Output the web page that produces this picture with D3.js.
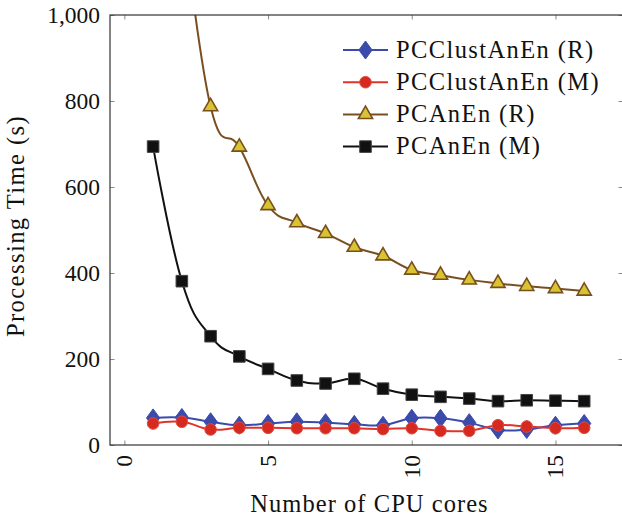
<!DOCTYPE html>
<html>
<head>
<meta charset="utf-8">
<script src="https://cdn.jsdelivr.net/npm/d3@7/dist/d3.min.js"></script>
<style>
  body { margin: 0; background: #fff; }
  svg { display: block; }
</style>
</head>
<body>
<svg id="chart"></svg>
<script>
// data (processing time in seconds per core count)
const cores = [1, 2, 3, 4, 5, 6, 7, 8, 9, 10, 11, 12, 13, 14, 15, 16];
const clustR = [63, 64, 54, 46, 50, 54, 52, 48, 46, 62, 62, 52, 35, 36, 46, 50];
const clustM = [50, 54, 36, 40, 40, 39, 39, 39, 37, 39, 33, 33, 46, 43, 39, 40];
const anenR = [null, 1250, 787, 693, 557, 517, 492, 460, 440, 407, 395, 384, 376, 369, 364, 358];
const anenM = [694, 381, 253, 206, 177, 150, 143, 154, 131, 117, 112, 108, 102, 104, 103, 102];
const seriesNames = ['PCClustAnEn (R)', 'PCClustAnEn (M)', 'PCAnEn (R)', 'PCAnEn (M)'];
const xTicks = [0, 5, 10, 15];
const yTicks = [0, 200, 400, 600, 800, 1000];

const width = 622, height = 518;
const margin = {top: 15, right: 622 - 623, bottom: 518 - 445, left: 110};
const serif = '"Liberation Serif"';

const svg = d3.select('#chart')
  .attr('width', width)
  .attr('height', height);

const x = d3.scaleLinear()
  .domain([-0.5, 17.35])
  .range([margin.left, width - margin.right]);
const y = d3.scaleLinear()
  .domain([0, 1000])
  .range([height - margin.bottom, margin.top]);

const styles = [
  {data: clustR, color: '#3b4bac', mark: 'diamond', fill: '#3b4bac', stroke: '#3b4bac'},
  {data: clustM, color: '#e0342b', mark: 'circle', fill: '#d62a20', stroke: '#e24a3f'},
  {data: anenR, color: '#7a4f1f', mark: 'triangle', fill: '#d8c433', stroke: '#7a4f1f'},
  {data: anenM, color: '#111111', mark: 'square', fill: '#111111', stroke: '#444444'}
];

// marker shapes, centred on 0,0
function markPath(type) {
  if (type === 'diamond') return 'M0,-9L6.6,0L0,9L-6.6,0Z';
  if (type === 'square') return 'M-5.8,-5.8H5.8V5.8H-5.8Z';
  if (type === 'triangle') {
    const r = 8.2;
    return `M0,${-r}L${r * 0.866},${r / 2}L${-r * 0.866},${r / 2}Z`;
  }
  return d3.symbol(d3.symbolCircle, Math.PI * 5.8 * 5.8)();
}

// clip region = plot box
svg.append('clipPath').attr('id', 'plotClip')
  .append('rect')
  .attr('x', x.range()[0]).attr('y', y.range()[1])
  .attr('width', x.range()[1] - x.range()[0])
  .attr('height', y.range()[0] - y.range()[1]);

// axes: ticks point inward, on all four sides
const tickLen = 4.5;
const axisG = svg.append('g');

const xAxisB = d3.axisBottom(x).tickValues(xTicks).tickSizeInner(-tickLen).tickSizeOuter(0).tickFormat('');
const xAxisT = d3.axisTop(x).tickValues(xTicks).tickSizeInner(-tickLen).tickSizeOuter(0).tickFormat('');
const yAxisL = d3.axisLeft(y).tickValues(yTicks).tickSizeInner(-tickLen).tickSizeOuter(0).tickFormat('');
const yAxisR = d3.axisRight(y).tickValues(yTicks).tickSizeInner(-tickLen).tickSizeOuter(0).tickFormat('');

axisG.append('g').attr('transform', `translate(0,${y.range()[0]})`).call(xAxisB);
axisG.append('g').attr('transform', `translate(0,${y.range()[1]})`).call(xAxisT);
axisG.append('g').attr('transform', `translate(${x.range()[0]},0)`).call(yAxisL);
axisG.append('g').attr('transform', `translate(${x.range()[1]},0)`).call(yAxisR);
axisG.selectAll('.domain').remove();
axisG.selectAll('.tick line').attr('stroke', '#8a8a8a').attr('stroke-width', 1);

// tick labels
const fmt = d3.format(',');
svg.append('g').selectAll('text')
  .data(yTicks)
  .enter().append('text')
  .attr('x', x.range()[0] - 10)
  .attr('y', d => y(d) + 8)
  .attr('text-anchor', 'end')
  .style('font-family', serif)
  .style('font-size', '23.5px')
  .style('fill', '#111')
  .text(d => fmt(d));

svg.append('g').selectAll('text')
  .data(xTicks)
  .enter().append('text')
  .attr('transform', d => `translate(${x(d) + 8},${y.range()[0] + 10}) rotate(-90)`)
  .attr('text-anchor', 'end')
  .style('font-family', serif)
  .style('font-size', '23.5px')
  .style('fill', '#111')
  .text(d => d);

// axis labels
svg.append('text')
  .attr('x', 369.5)
  .attr('y', 512)
  .attr('text-anchor', 'middle')
  .style('font-family', serif)
  .style('font-size', '24.5px')
  .style('letter-spacing', '1.05px')
  .style('fill', '#111')
  .text('Number of CPU cores');

svg.append('text')
  .attr('transform', 'translate(23.5,226) rotate(-90)')
  .attr('text-anchor', 'middle')
  .style('font-family', serif)
  .style('font-size', '24.5px')
  .style('letter-spacing', '1.45px')
  .style('fill', '#111')
  .text('Processing Time (s)');

// series
const plotG = svg.append('g').attr('clip-path', 'url(#plotClip)');
const line = d3.line()
  .x(d => x(d.c))
  .y(d => y(d.v))
  .curve(d3.curveCardinal.tension(-0.25));

styles.forEach(s => {
  const pts = cores.map((c, i) => ({c, v: s.data[i]})).filter(d => d.v !== null);
  const g = plotG.append('g');
  g.append('path')
    .datum(pts)
    .attr('fill', 'none')
    .attr('stroke', s.color)
    .attr('stroke-width', 2)
    .attr('d', line);
  g.selectAll('path.mark')
    .data(pts)
    .enter().append('path')
    .attr('class', 'mark')
    .attr('transform', d => `translate(${x(d.c)},${y(d.v)})`)
    .attr('d', markPath(s.mark))
    .attr('fill', s.fill)
    .attr('stroke', s.stroke)
    .attr('stroke-width', s.mark === 'triangle' ? 1.6 : 1);
});

// frame
svg.append('rect')
  .attr('x', x.range()[0]).attr('y', y.range()[1])
  .attr('width', x.range()[1] - x.range()[0])
  .attr('height', y.range()[0] - y.range()[1])
  .attr('fill', 'none')
  .attr('stroke', '#333')
  .attr('stroke-width', 1.2);

// legend (no box)
const legend = svg.append('g');
const rows = legend.selectAll('g')
  .data(styles)
  .enter().append('g')
  .attr('transform', (d, i) => `translate(343,${50 + i * 32.2})`);
rows.append('line')
  .attr('x1', 0).attr('x2', 45)
  .attr('stroke', d => d.color)
  .attr('stroke-width', 2);
rows.append('path')
  .attr('transform', 'translate(22.5,0)')
  .attr('d', d => markPath(d.mark))
  .attr('fill', d => d.fill)
  .attr('stroke', d => d.stroke)
  .attr('stroke-width', d => d.mark === 'triangle' ? 1.6 : 1);
rows.append('text')
  .attr('x', 53)
  .attr('y', 7.5)
  .style('font-family', serif)
  .style('font-size', '24.5px')
  .style('letter-spacing', '1.4px')
  .style('fill', '#111')
  .text((d, i) => seriesNames[i]);
</script>
</body>
</html>
